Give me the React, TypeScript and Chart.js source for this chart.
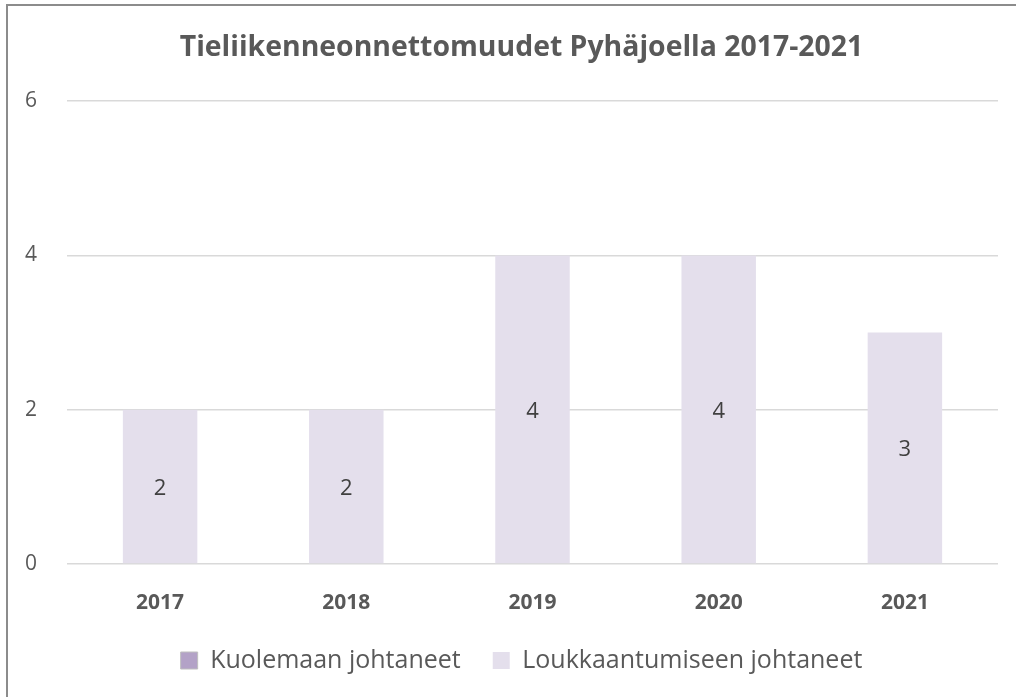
import React, { useEffect, useRef } from "react";
import { Chart, registerables } from "chart.js";

Chart.register(...registerables);

const categories = ["2017", "2018", "2019", "2020", "2021"];
const kuolemaan = [0, 0, 0, 0, 0];
const loukkaantumiseen = [2, 2, 4, 4, 3];
const yTicks = [0, 2, 4, 6];
const titleText = "Tieliikenneonnettomuudet Pyhäjoella 2017-2021";
const seriesNames = ["Kuolemaan johtaneet", "Loukkaantumiseen johtaneet"];

const FONT = "'Open Sans', sans-serif";

const labelPlugin = {
  id: "barLabels",
  afterDatasetsDraw(chart: any) {
    const ctx = chart.ctx;
    const meta = chart.getDatasetMeta(1);
    ctx.save();
    ctx.font = `22px ${FONT}`;
    ctx.fillStyle = "#404040";
    ctx.textAlign = "center";
    ctx.textBaseline = "middle";
    meta.data.forEach((bar: any, i: number) => {
      const v = loukkaantumiseen[i];
      const { x, y, base } = bar.getProps(["x", "y", "base"], true);
      ctx.fillText(String(v), x, (y + base) / 2 + 2);
    });
    ctx.restore();
  },
};

export default function App() {
  const ref = useRef<HTMLCanvasElement>(null);
  useEffect(() => {
    if (!ref.current) return;
    const chart = new Chart(ref.current, {
      type: "bar",
      data: {
        labels: categories,
        datasets: [
          {
            label: seriesNames[0],
            data: kuolemaan,
            backgroundColor: "#B3A2C7",
            barPercentage: 0.4,
            categoryPercentage: 1,
          },
          {
            label: seriesNames[1],
            data: loukkaantumiseen,
            backgroundColor: "#E4DFEC",
            barPercentage: 0.4,
            categoryPercentage: 1,
          },
        ],
      },
      options: {
        responsive: false,
        animation: false,
        layout: { padding: { left: 45, right: 18, top: 0, bottom: 14 } },
        plugins: {
          title: {
            display: true,
            text: titleText,
            color: "#595959",
            font: { family: FONT, size: 28.4, weight: "bold" },
            padding: { top: 31, bottom: 36 },
          },
          legend: {
            position: "bottom",
            labels: {
              color: "#595959",
              font: { family: FONT, size: 25 },
              boxWidth: 17,
              boxHeight: 17,
              padding: 32,
              generateLabels(chart: any) {
                const items = Chart.defaults.plugins.legend.labels.generateLabels(chart);
                items.forEach((it: any, i: number) => {
                  it.strokeStyle = i === 0 ? "#BFBFBF" : "rgba(0,0,0,0)";
                  it.lineWidth = i === 0 ? 1 : 0;
                });
                return items;
              },
            },
          },
          tooltip: { enabled: false },
        },
        scales: {
          x: {
            stacked: true,
            grid: { display: false, drawTicks: false },
            border: { display: false },
            ticks: {
              color: "#595959",
              font: { family: FONT, size: 21, weight: "bold" },
              padding: 26,
            },
            afterFit(scale: any) {
              scale.height = 52;
            },
          },
          y: {
            stacked: true,
            min: 0,
            max: 6,
            afterBuildTicks(scale: any) {
              scale.ticks = yTicks.map((v) => ({ value: v }));
            },
            afterFit(scale: any) {
              scale.width = 22;
            },
            grid: { color: "#D9D9D9", lineWidth: 1.5, drawTicks: false },
            border: { display: false },
            ticks: {
              mirror: true,
              color: "#595959",
              font: { family: FONT, size: 21 },
              padding: -42,
            },
          },
        },
      },
      plugins: [labelPlugin],
    });
    return () => chart.destroy();
  }, []);

  return (
    <div
      style={{
        position: "fixed",
        left: 0,
        top: 0,
        width: 1016,
        height: 697,
        overflow: "hidden",
        background: "#fff",
      }}
    >
      <div
        style={{
          position: "absolute",
          left: 6,
          top: 4,
          width: 1040,
          height: 720,
          border: "2px solid #8C8C8C",
          boxSizing: "border-box",
        }}
      />
      <canvas
        ref={ref}
        width={1016}
        height={697}
        style={{ position: "absolute", left: 0, top: 0 }}
      />
    </div>
  );
}
